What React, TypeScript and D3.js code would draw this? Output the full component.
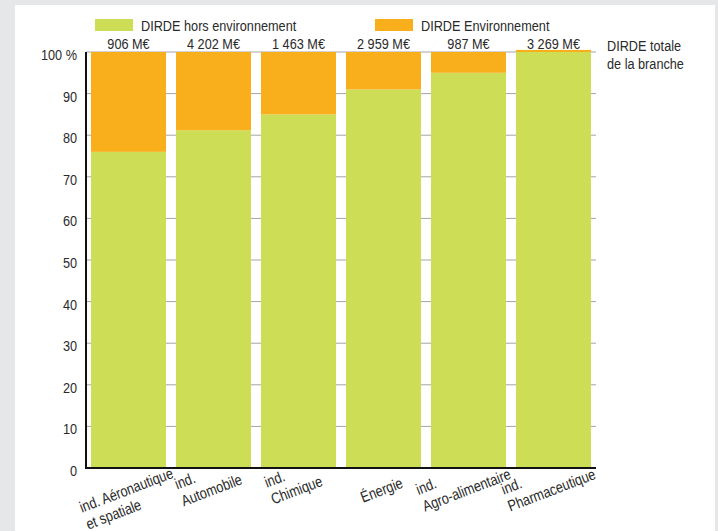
import React from "react";
import * as d3 from "d3";

const categories: string[][] = [
  ["ind. Aéronautique", "et spatiale"],
  ["ind.", "Automobile"],
  ["ind.", "Chimique"],
  ["Énergie"],
  ["ind.", "Agro-alimentaire"],
  ["ind.", "Pharmaceutique"],
];
const horsEnv: number[] = [76, 81.2, 85, 91, 95, 100];
const env: number[] = [24, 18.8, 15, 9, 5, 0.5];
const totals: string[] = ["906 M€", "4 202 M€", "1 463 M€", "2 959 M€", "987 M€", "3 269 M€"];
const yTicks: number[] = [0, 10, 20, 30, 40, 50, 60, 70, 80, 90, 100];
const legendLabels: string[] = ["DIRDE hors environnement", "DIRDE Environnement"];
const sideNote: string[] = ["DIRDE totale", "de la branche"];

const W = 718;
const H = 531;
const GREEN = "#cddd55";
const ORANGE = "#f9ae1c";
const TEXT = "#2a2a2a";
const FONT = "'Liberation Sans', Arial, sans-serif";
const FS = 15.5;
const SX = 0.82;

let ctx: CanvasRenderingContext2D | null = null;
function measure(s: string): number {
  if (!ctx) ctx = document.createElement("canvas").getContext("2d");
  if (!ctx) return s.length * FS * 0.5 * SX;
  ctx.font = `${FS}px 'Liberation Sans', Arial, sans-serif`;
  return ctx.measureText(s).width * SX;
}

function T({ x, y, children, anchor = "start" }: { x: number; y: number; children: React.ReactNode; anchor?: string }) {
  return (
    <text transform={`translate(${x},${y}) scale(${SX},1)`} fontSize={FS} fill={TEXT} textAnchor={anchor as any}>
      {children}
    </text>
  );
}

export default function App() {
  const ids = categories.map((_, i) => String(i));
  const x = d3.scaleBand<string>().domain(ids).range([86, 596]).paddingInner(10 / 85).paddingOuter(5 / 85);
  const y = d3.scaleLinear().domain([0, 100]).range([468, 52]);
  const bw = x.bandwidth();

  return (
    <svg width={W} height={H} style={{ position: "absolute", left: 0, top: 0 }} fontFamily={FONT}>
      <rect x={0} y={0} width={W} height={H} fill="#e6e7e9" />
      <rect x={15} y={5} width={700} height={H - 5} fill="#ffffff" />

      {/* legend */}
      <rect x={95} y={19} width={38} height={12} fill={GREEN} />
      <T x={141} y={31}>{legendLabels[0]}</T>
      <rect x={375} y={19} width={38} height={12} fill={ORANGE} />
      <T x={421} y={31}>{legendLabels[1]}</T>

      {/* grid */}
      {yTicks.filter((t) => t > 0).map((t) => (
        <line key={t} x1={86} x2={596} y1={y(t)} y2={y(t)} stroke="#a5a5a5" strokeWidth={1} />
      ))}

      {/* bars */}
      {ids.map((id, i) => {
        const x0 = x(id)!;
        const gTop = y(horsEnv[i]);
        const oTop = y(horsEnv[i] + env[i]);
        return (
          <g key={id}>
            <rect x={x0} y={gTop} width={bw} height={y(0) - gTop} fill={GREEN} />
            <rect x={x0} y={oTop} width={bw} height={gTop - oTop} fill={ORANGE} />
            <T x={x0 + bw / 2} y={y(100) - 3} anchor="middle">{totals[i]}</T>
          </g>
        );
      })}

      {/* axes */}
      <line x1={86} x2={86} y1={y(100)} y2={y(0) + 1} stroke="#111" strokeWidth={2} />
      <line x1={85} x2={596} y1={y(0)} y2={y(0)} stroke="#111" strokeWidth={2} />

      {/* y tick labels */}
      {yTicks.map((t) => (
        <T key={t} x={77} y={y(t) + 8} anchor="end">
          {t === 100 ? "100 %" : String(t)}
        </T>
      ))}

      {/* x labels */}
      {ids.map((id, i) => {
        const lines = categories[i];
        const widths = lines.map(measure);
        const wMax = Math.max(...widths);
        const k = widths.indexOf(wMax);
        const cx = x(id)! + bw / 2;
        return (
          <g key={id} transform={`translate(${cx},${y(0) + 27}) rotate(-21)`}>
            {lines.map((ln, j) => (
              <T key={j} x={-wMax / 2} y={(j - k) * 18}>{ln}</T>
            ))}
          </g>
        );
      })}

      {/* side note */}
      <T x={607} y={51}>{sideNote[0]}</T>
      <T x={607} y={69}>{sideNote[1]}</T>
    </svg>
  );
}
